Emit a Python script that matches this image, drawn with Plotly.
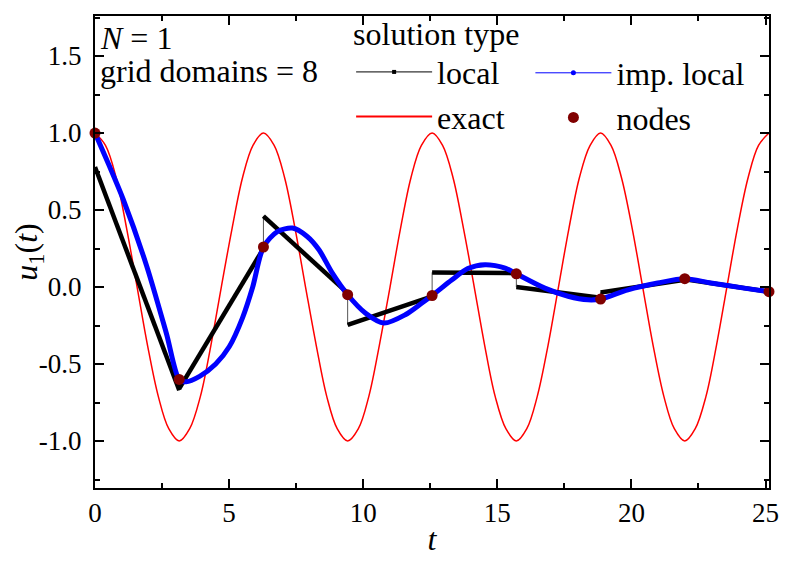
import plotly.graph_objs as go

# node times (domain boundaries, multiples of pi) and node values
node_t = [0, 3.14, 6.28, 9.42, 12.57, 15.71, 18.85, 21.99, 25.13]
node_u = [1.0, -0.6, 0.26, -0.05, -0.055, 0.086, -0.078, 0.054, -0.03]

# local solution: value at start and end of every grid domain
local_start = [0.78, -0.66, 0.46, -0.245, 0.095, 0.0, -0.035, 0.05]
local_end = [-0.67, 0.25, -0.04, -0.06, 0.09, -0.07, 0.047, -0.03]

# improved local solution
imp_t = [0, 0.5, 1.05, 1.92, 2.66, 3.14, 3.4, 3.9, 4.5, 5.01, 5.5, 5.88, 6.28,
         6.8, 7.36, 7.9, 8.35, 8.85, 9.42, 10.09, 10.77, 11.57, 12.19, 12.57,
         13.31, 13.9, 14.54, 15.29, 15.71, 16.77, 17.64, 18.38, 18.85, 19.87,
         20.98, 21.99, 22.96, 24.2, 25.13]
imp_u = [1.0, 0.8, 0.57, 0.14, -0.3, -0.6, -0.615, -0.58, -0.5, -0.386, -0.2, 0.0, 0.26,
         0.36, 0.383, 0.33, 0.242, 0.09, -0.05, -0.17, -0.234, -0.18, -0.104, -0.055,
         0.047, 0.12, 0.145, 0.123, 0.086, -0.007, -0.06, -0.083, -0.078, -0.018,
         0.026, 0.054, 0.026, -0.007, -0.03]

# exact solution read at eighth-period steps
exact_t = [0, 0.39, 0.79, 1.18, 1.57, 1.96, 2.36, 2.75, 3.14, 3.53, 3.93, 4.32,
           4.71, 5.11, 5.5, 5.89, 6.28, 6.68, 7.07, 7.46, 7.85, 8.25, 8.64, 9.03,
           9.42, 9.82, 10.21, 10.6, 11.0, 11.39, 11.78, 12.17, 12.57, 12.96, 13.35,
           13.74, 14.14, 14.53, 14.92, 15.32, 15.71, 16.1, 16.49, 16.89, 17.28,
           17.67, 18.06, 18.46, 18.85, 19.24, 19.63, 20.03, 20.42, 20.81, 21.21,
           21.6, 21.99, 22.38, 22.78, 23.17, 23.56, 23.95, 24.35, 24.74, 25.13]
exact_u = [1.0, 0.92, 0.71, 0.38, 0.0, -0.38, -0.71, -0.92,
           -1.0, -0.92, -0.71, -0.38, 0.0, 0.38, 0.71, 0.92,
           1.0, 0.92, 0.71, 0.38, 0.0, -0.38, -0.71, -0.92,
           -1.0, -0.92, -0.71, -0.38, 0.0, 0.38, 0.71, 0.92,
           1.0, 0.92, 0.71, 0.38, 0.0, -0.38, -0.71, -0.92,
           -1.0, -0.92, -0.71, -0.38, 0.0, 0.38, 0.71, 0.92,
           1.0, 0.92, 0.71, 0.38, 0.0, -0.38, -0.71, -0.92,
           -1.0, -0.92, -0.71, -0.38, 0.0, 0.38, 0.71, 0.92, 1.0]

y_ticks = [-1.0, -0.5, 0.0, 0.5, 1.0, 1.5]
y_ticktext = ['-1.0', '-0.5', '0.0', '0.5', '1.0', '1.5']
x_ticks = [0, 5, 10, 15, 20, 25]

FONT = 'Liberation Serif'

# build the piecewise local curve (thin line incl. jumps, thick pieces)
loc_x, loc_y = [], []
seg_x, seg_y = [], []
for k in range(len(local_start)):
    loc_x += [node_t[k], node_t[k + 1]]
    loc_y += [local_start[k], local_end[k]]
    seg_x += [node_t[k], node_t[k + 1], None]
    seg_y += [local_start[k], local_end[k], None]

fig = go.Figure()

fig.add_trace(go.Scatter(
    x=exact_t, y=exact_u, mode='lines',
    line=dict(color='#ff0000', width=1.5, shape='spline', smoothing=1.0),
    showlegend=False))

fig.add_trace(go.Scatter(
    x=loc_x, y=loc_y, mode='lines',
    line=dict(color='#555555', width=1),
    showlegend=False))
fig.add_trace(go.Scatter(
    x=seg_x, y=seg_y, mode='lines',
    line=dict(color='black', width=4.5),
    showlegend=False))

fig.add_trace(go.Scatter(
    x=imp_t, y=imp_u, mode='lines',
    line=dict(color='#0000ff', width=5, shape='spline', smoothing=0.8),
    showlegend=False))

fig.add_trace(go.Scatter(
    x=node_t, y=node_u, mode='markers',
    marker=dict(color='#800000', size=11),
    showlegend=False, cliponaxis=False))

# legend-only entries, two columns (legend / legend2)
fig.add_trace(go.Scatter(
    x=[None], y=[None], mode='lines+markers', name='local', legend='legend',
    line=dict(color='black', width=1),
    marker=dict(symbol='square', size=4, color='black')))
fig.add_trace(go.Scatter(
    x=[None], y=[None], mode='lines', name='exact', legend='legend',
    line=dict(color='#ff0000', width=2)))
fig.add_trace(go.Scatter(
    x=[None], y=[None], mode='lines+markers', name='imp. local', legend='legend2',
    line=dict(color='#0000ff', width=1),
    marker=dict(symbol='circle', size=5, color='#0000ff')))
fig.add_trace(go.Scatter(
    x=[None], y=[None], mode='markers', name='nodes', legend='legend2',
    marker=dict(color='#800000', size=11)))

fig.add_annotation(
    text='<i>N</i> = 1', xref='paper', yref='paper', x=0.005, y=0.996,
    xanchor='left', yanchor='top', showarrow=False,
    font=dict(family=FONT, size=32, color='black'))
fig.add_annotation(
    text='grid domains = 8', xref='paper', yref='paper', x=0.005, y=0.925,
    xanchor='left', yanchor='top', showarrow=False,
    font=dict(family=FONT, size=32, color='black'))

axis_common = dict(
    showline=True, linecolor='black', linewidth=2, mirror='allticks',
    ticks='inside', ticklen=9, tickwidth=1.5, tickcolor='black',
    showgrid=False, zeroline=False,
    tickfont=dict(family=FONT, size=27, color='black'),
)

legend_common = dict(
    orientation='v', xanchor='left', yanchor='top',
    bgcolor='rgba(0,0,0,0)', itemwidth=76, tracegroupgap=0,
    font=dict(family=FONT, size=32, color='black'),
)

fig.update_layout(
    width=793, height=561,
    paper_bgcolor='white', plot_bgcolor='white',
    # page is drawn 8px in from the top-left corner
    margin=dict(l=87, r=32, t=8, b=81, autoexpand=False),
    font=dict(family=FONT, color='black'),
    xaxis=dict(
        axis_common, range=[0, 25.13], tickvals=x_ticks, automargin=False,
        minor=dict(ticks='inside', ticklen=5, tickwidth=1.5, tickcolor='black', dtick=2.5, tick0=0),
        title=dict(text='<i>t</i>', font=dict(family=FONT, size=32), standoff=0)),
    yaxis=dict(
        axis_common, range=[-1.305, 1.76], tickvals=y_ticks, ticktext=y_ticktext,
        automargin=True,
        minor=dict(ticks='inside', ticklen=5, tickwidth=1.5, tickcolor='black', dtick=0.25, tick0=0),
        ticklabelstandoff=6,
        title=dict(text='<i>u</i><sub>1</sub>(<i>t</i>)', font=dict(family=FONT, size=32), standoff=14)),
    legend=dict(
        legend_common, x=0.38, y=1.0275,
        title=dict(text='solution type', side='top', font=dict(family=FONT, size=32))),
    legend2=dict(legend_common, x=0.646, y=0.9375),
)

fig.write_html("out.html")
